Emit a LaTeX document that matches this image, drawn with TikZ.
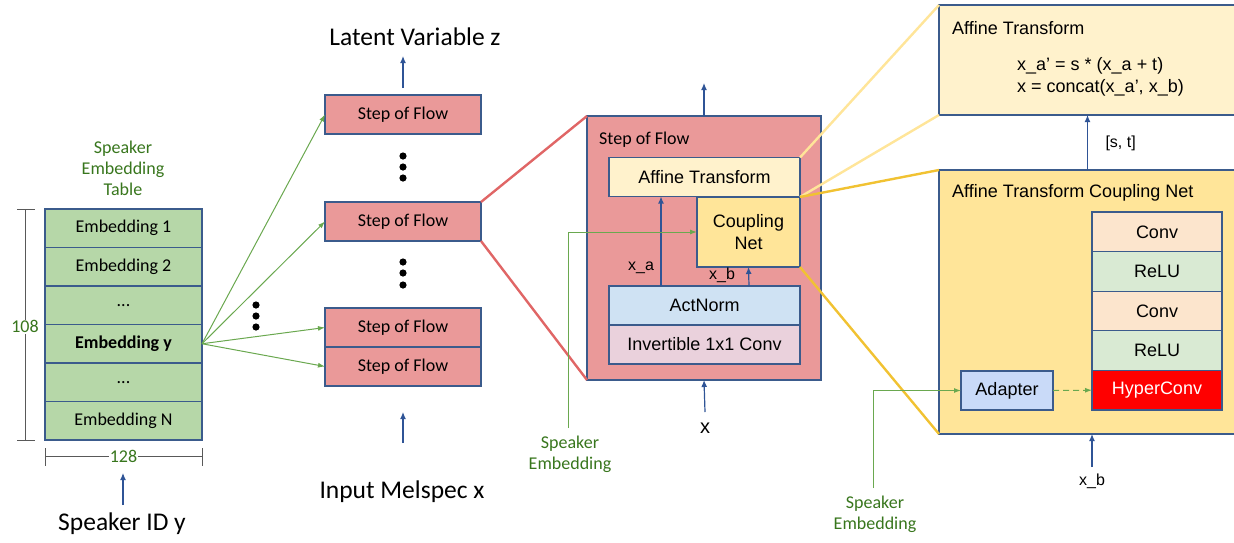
\documentclass[tikz,border=0pt]{standalone}
\usepackage{fontspec}
\setmainfont{Carlito}
\newfontfamily\arialfont{Liberation Sans}
\usepackage{xcolor}
\usetikzlibrary{arrows, arrows.meta}
\usetikzlibrary{calc}

\definecolor{boxline}{HTML}{3B5B8C}
\definecolor{arrowblue}{HTML}{2F5496}
\definecolor{soffill}{HTML}{EA9999}
\definecolor{zoomred}{HTML}{E06666}
\definecolor{affinefill}{HTML}{FFF2CC}
\definecolor{couplefill}{HTML}{FFE599}
\definecolor{actfill}{HTML}{CFE2F3}
\definecolor{invfill}{HTML}{EAD1DC}
\definecolor{convfill}{HTML}{FCE5CD}
\definecolor{relufill}{HTML}{D9EAD3}
\definecolor{adapterfill}{HTML}{C9DAF8}
\definecolor{embfill}{HTML}{B6D7A8}
\definecolor{greenline}{HTML}{6AA84F}
\definecolor{greentext}{HTML}{38761D}
\definecolor{lightgold}{HTML}{FFE599}
\definecolor{darkgold}{HTML}{F1C232}
\definecolor{dimgray}{HTML}{595959}

\newcommand{\caltxt}{\fontsize{18}{21}\selectfont}
\newcommand{\bigcal}{\fontsize{25.5}{30}\selectfont}
\newcommand{\ariatxt}{\arialfont\fontsize{18}{22}\selectfont}
\newcommand{\arialsmall}{\arialfont\fontsize{16}{19}\selectfont}

\begin{document}
\begin{tikzpicture}[x=1pt, y=-1pt,
    box/.style={draw=boxline, line width=1.1pt, inner sep=0pt, outer sep=0pt},
    embrow/.style={box, fill=embfill, minimum width=157pt, minimum height=38.5pt, font=\caltxt},
    sofbox/.style={box, fill=soffill, minimum width=156pt, minimum height=39pt, font=\caltxt},
    inbox/.style={box, minimum width=191pt, minimum height=39pt, font=\ariatxt},
    stackrow/.style={box, minimum width=130pt, minimum height=39.6pt, font=\ariatxt},
    flowarrow/.style={draw=arrowblue, line width=1.2pt, -{Latex[length=7pt, width=6pt]}},
    greenarrow/.style={draw=greenline, line width=1pt, -{Latex[length=7pt, width=5pt]}},
    greentxt/.style={text=greentext, font=\caltxt, align=center, inner sep=1pt},
    dimline/.style={draw=dimgray, line width=1pt},
    zoomline/.style={line width=2.4pt}]
    \useasboundingbox (0,0) rectangle (1234,542);

    % speaker embedding table
    \node [greentxt] (tabcap) at (123,168) {Speaker\\Embedding\\Table};
    \node [embrow] (emb1) at (123.5,228.25) {Embedding 1};
    \node [embrow] (emb2) at (123.5,266.75) {Embedding 2};
    \node [embrow] (embdots1) at (123.5,305.25) {...};
    \node [embrow] (emby) at (123.5,343.75) {\textbf{Embedding y}};
    \node [embrow] (embdots2) at (123.5,382.25) {...};
    \node [embrow] (embN) at (123.5,420.75) {Embedding N};
    \draw [dimline] (17,209) -- (35,209);
    \draw [dimline] (17,440) -- (35,440);
    \draw [dimline] (25,209) -- node [greentxt, fill=white, pos=0.51] (dimh) {108} (25,440);
    \draw [dimline] (45,448) -- (45,466);
    \draw [dimline] (202,448) -- (202,466);
    \draw [dimline] (45,456) -- node [greentxt, fill=white] (dimw) {128} (202,456);
    \node [font=\bigcal] (spkid) at (122,524) {Speaker ID y};
    \coordinate (spkin) at (123,505);
    \draw [flowarrow] (spkin) -- ++(0,-32);

    % flow steps
    \node [font=\bigcal] (latent) at (415,37) {Latent Variable z};
    \node [sofbox] (sof1) at (403,114.5) {Step of Flow};
    \node [sofbox] (sof2) at (403,221.5) {Step of Flow};
    \node [sofbox] (sof3) at (403,327.5) {Step of Flow};
    \node [sofbox] (sof4) at (403,366.5) {Step of Flow};
    \node [font=\bigcal] (melspec) at (402,492) {Input Melspec x};
    \foreach \y in {156,167,178,262,273,285}
        \fill (403,\y) circle [radius=3.6pt];
    \foreach \y in {305,316,327}
        \fill (256,\y) circle [radius=3.6pt];
    \foreach \n in {sof1,sof2,sof3,sof4}
        \draw [greenarrow] (emby.east) -- (\n.west);
    \draw [flowarrow, shorten <=7pt] (sof1.north) -- ++(0,-39);
    \coordinate (melin) at (403,443);
    \draw [flowarrow] (melin) -- ++(0,-31);

    % one step of flow
    \node [box, fill=soffill, minimum width=234pt, minimum height=264pt] (step) at (704,248) {};
    \draw [zoomline, zoomred] (sof2.north east) -- (step.north west);
    \draw [zoomline, zoomred] (sof2.south east) -- (step.south west);
    \node [font=\caltxt, anchor=west, inner sep=0pt] (steplbl) at (599,140) {Step of Flow};
    \node [inbox, fill=affinefill] (affine) at (704.5,177) {Affine Transform};
    \node [inbox, fill=couplefill, minimum width=103pt, minimum height=70pt, align=center] (coupling) at (748.5,232) {Coupling\\Net};
    \node [inbox, fill=actfill] (actnorm) at (704.5,305.5) {ActNorm};
    \node [inbox, fill=invfill] (invconv) at (704.5,344.5) {Invertible 1x1 Conv};
    \draw [flowarrow] ([xshift=-43.5pt]actnorm.north) -- ([xshift=-43.5pt]affine.south);
    \draw [flowarrow] ([xshift=44.5pt]actnorm.north) -- (coupling.south);
    \node [font=\arialsmall] (xa) at (641,268) {x\_a};
    \node [font=\arialsmall] (xb) at (722,275) {x\_b};
    \draw [flowarrow] (step.north) -- ++(0,-33);
    \coordinate (xin) at (705,412);
    \draw [flowarrow] (xin) -- (step.south);
    \node [font=\arialfont\fontsize{20}{24}\selectfont] (xlbl) at (705,428) {x};
    \coordinate (semb1) at (568,428);
    \draw [greenarrow] (semb1) |- (coupling.west);
    \node [greentxt] (semb1lbl) at (570,454) {Speaker\\Embedding};

    % affine transform and coupling net
    \node [box, fill=affinefill, minimum width=297pt, minimum height=110pt] (raffine) at (1087.5,60) {};
    \node [box, fill=couplefill, minimum width=297pt, minimum height=264pt] (rcoup) at (1087.5,302) {};
    \draw [zoomline, lightgold] (affine.north east) -- (raffine.north west);
    \draw [zoomline, lightgold] (coupling.north east) -- (raffine.south west);
    \draw [zoomline, darkgold] (coupling.north east) -- (rcoup.north west);
    \draw [zoomline, darkgold] (coupling.south east) -- (rcoup.south west);
    \node [font=\ariatxt, anchor=west, inner sep=0pt] (raflbl) at (952,28) {Affine Transform};
    \node [font=\ariatxt, anchor=west, align=left, inner sep=0pt] (eqs) at (1017,77) {x\_a’ = s * (x\_a + t)\\x = concat(x\_a’, x\_b)};
    \node [font=\ariatxt, anchor=west, inner sep=0pt] (rclbl) at (952,193) {Affine Transform Coupling Net};
    \draw [flowarrow] (rcoup.north) -- (raffine.south);
    \node [font=\arialsmall, anchor=west] (st) at (1102,143) {[s, t]};
    \node [stackrow, fill=convfill] (conv1) at (1157,231.8) {Conv};
    \node [stackrow, fill=relufill] (relu1) at (1157,271.4) {ReLU};
    \node [stackrow, fill=convfill] (conv2) at (1157,311) {Conv};
    \node [stackrow, fill=relufill] (relu2) at (1157,350.6) {ReLU};
    \node [stackrow, fill=red, text=white] (hyper) at (1157,390.2) {HyperConv};
    \node [stackrow, fill=adapterfill, minimum width=92pt, minimum height=39pt] (adapter) at (1007,390.5) {Adapter};
    \draw [greenarrow, dash pattern=on 6pt off 4pt] (adapter.east) -- (hyper.west);
    \coordinate (semb2) at (873,488);
    \draw [greenarrow] (semb2) |- (adapter.west);
    \node [greentxt] (semb2lbl) at (875,514) {Speaker\\Embedding};
    \coordinate (xbin) at (1092,467);
    \draw [flowarrow] (xbin) -- (xbin |- rcoup.south);
    \node [font=\arialsmall] (xb2) at (1092,481) {x\_b};
\end{tikzpicture}
\end{document}
